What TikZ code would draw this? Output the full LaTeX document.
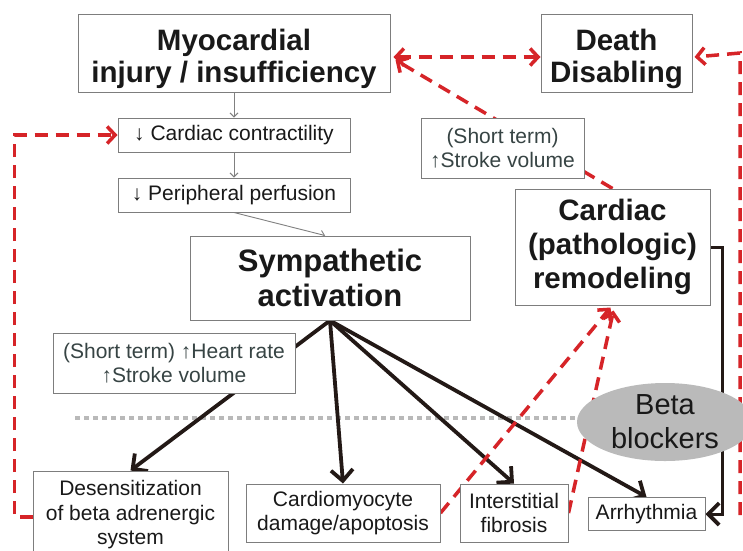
\documentclass[tikz,border=0pt]{standalone}
\usepackage{fontspec}
\setmainfont{Liberation Sans}
\usetikzlibrary{arrows.meta,shapes.geometric,backgrounds,calc}
\definecolor{dred}{RGB}{214,36,40}
\definecolor{blk}{RGB}{35,25,22}
\definecolor{bord}{RGB}{125,125,125}
\definecolor{txt}{RGB}{25,25,25}
\definecolor{stxt}{RGB}{55,68,68}
\definecolor{dotg}{RGB}{185,185,185}
\definecolor{ellg}{RGB}{186,186,186}
\tikzset{
  box/.style={draw=bord, line width=1pt, fill=white, inner sep=0pt, align=center, text=txt},
  bigbox/.style={box, font=\bfseries\fontsize{29.5}{32}\selectfont},
  smallbox/.style={box, font=\fontsize{21}{24.5}\selectfont},
  reddash/.style={draw=dred, line width=3.5pt, dash pattern=on 13pt off 8pt},
  redtip/.style={-{Straight Barb[length=8pt,width=17pt,line width=3.5pt]}},
  redboth/.style={{Straight Barb[length=8pt,width=17pt,line width=3.5pt]}-{Straight Barb[length=8pt,width=17pt,line width=3.5pt]}},
  blkarr/.style={draw=blk, line width=3.8pt, -{Straight Barb[length=11pt,width=22pt,line width=3.8pt]}},
  gryarr/.style={draw=gray, line width=0.9pt, -{Straight Barb[length=4pt,width=8pt]}},
  dotline/.style={draw=dotg, line width=4.5pt, dash pattern=on 4.5pt off 4.5pt},
}
\begin{document}
\begin{tikzpicture}[x=1pt,y=-1pt]
\useasboundingbox (0,0) rectangle (743,550);
\clip (0,0) rectangle (743,550);

\node[bigbox, minimum width=312, minimum height=78] (myo) at (234,53) {\rule{0pt}{34pt}Myocardial\\injury / insufficiency};
\node[bigbox, minimum width=151, minimum height=78] (death) at (616.5,53) {\rule{0pt}{34pt}Death\\Disabling};
\node[smallbox, minimum width=232, minimum height=34] (contr) at (234,135) {↓ Cardiac contractility};
\node[smallbox, minimum width=232, minimum height=34] (perf) at (234,195) {↓ Peripheral perfusion};
\node[bigbox, font=\bfseries\fontsize{31}{35}\selectfont, minimum width=280, minimum height=84] (symp) at (330,278) {Sympathetic\\activation};
\node[smallbox, text=stxt, font=\fontsize{21}{23.5}\selectfont, minimum width=163, minimum height=60] (sv) at (502.5,148) {(Short term)\\↑Stroke volume};
\node[bigbox, font=\bfseries\fontsize{29.5}{34}\selectfont, minimum width=195, minimum height=116] (remod) at (612.5,247) {Cardiac\\(pathologic)\\remodeling};
\node[smallbox, text=stxt, font=\fontsize{21}{23.5}\selectfont, minimum width=242, minimum height=60] (hr) at (174,363) {(Short term) ↑Heart rate\\↑Stroke volume};
\node[smallbox, minimum width=195, minimum height=88] (des) at (130.5,515) {Desensitization\\of beta adrenergic\\system};
\node[smallbox, minimum width=194, minimum height=58] (cmy) at (343,513) {Cardiomyocyte\\damage/apoptosis};
\node[smallbox, minimum width=108, minimum height=58] (fib) at (514,513) {Interstitial\\fibrosis};
\node[smallbox, minimum width=117, minimum height=33] (arr) at (646.5,514) {Arrhythmia};
\coordinate (rb) at (740,515);

\begin{scope}[on background layer]
  \fill[white] (0,0) rectangle (743,550);
  \draw[dotline] (75,418) -- (600,418);
  % thin grey flow
  \draw[gryarr] (myo) -- (contr);
  \draw[gryarr] (contr) -- (perf);
  \draw[gryarr] (perf.south) -- ($(symp.north)+(-5,0)$);
  % black arrows
  \draw[blkarr] (symp.south) -- (des.north);
  \draw[blkarr] (symp.south) -- (cmy.north);
  \draw[blkarr] (symp.south) -- (fib.north);
  \draw[blkarr] (symp.south) -- (arr.north);
  \draw[blkarr, line width=3pt] (remod.east) -- ++(12,0) |- (arr.east);
  % red dashed
  \draw[reddash, redboth] ($(myo.east)+(3,4)$) -- ($(death.west)+(0,4)$);
  \draw[reddash, redtip] (remod.north) -- ($(myo.east)+(5,7)$);
  \draw[reddash, redtip] (rb) -- (rb |- death.east) -- ($(death.east)+(2,4)$);
  \draw[reddash, redtip] ($(des.west)+(0,2)$) -- ++(-18,0) |- (contr.west);
  \draw[reddash, redtip] (cmy.east) -- ($(remod.south)+(-2,2)$);
  \draw[reddash, redtip] (fib.east) -- ($(remod.south)+(1,5)$);
\end{scope}

\node[ellipse, fill=ellg, minimum width=176, minimum height=78, inner sep=0pt, align=center, text=txt, font=\fontsize{29}{34}\selectfont] (bb) at (665,422) {Beta\\blockers};
\end{tikzpicture}
\end{document}
